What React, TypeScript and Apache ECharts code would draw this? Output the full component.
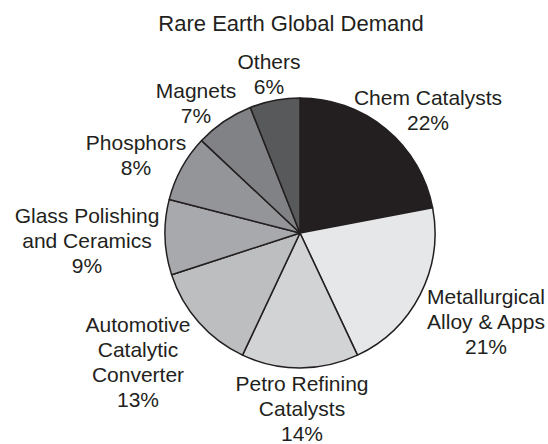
import React, { useEffect, useRef } from "react";
import * as echarts from "echarts";

// Share of global rare earth demand by end use (percent)
const categories = [
  "Chem Catalysts",
  "Metallurgical\nAlloy & Apps",
  "Petro Refining\nCatalysts",
  "Automotive\nCatalytic\nConverter",
  "Glass Polishing\nand Ceramics",
  "Phosphors",
  "Magnets",
  "Others",
];
const shares = [22, 21, 14, 13, 9, 8, 7, 6];

// Greyscale fill per slice
const sliceColors = [
  "#231f20",
  "#e6e7e8",
  "#d1d3d4",
  "#bcbec0",
  "#a7a9ac",
  "#939598",
  "#808285",
  "#58595b",
];

// Label anchor (centre of each text block) in chart pixels
const labelAnchors: [number, number][] = [
  [428, 110],
  [486, 321],
  [302, 408],
  [138, 362],
  [87, 240],
  [136, 155],
  [196, 103],
  [269, 74],
];

const FONT = "'Liberation Sans', Arial, Helvetica, sans-serif";
const INK = "#231f20";

export default function App() {
  const ref = useRef<HTMLDivElement>(null);

  useEffect(() => {
    if (!ref.current) return;
    const chart = echarts.init(ref.current, undefined, { renderer: "svg" });
    chart.setOption({
      animation: false,
      backgroundColor: "#ffffff",
      title: {
        text: "Rare Earth Global Demand",
        left: 286,
        top: 18,
        textAlign: "center",
        textVerticalAlign: "middle",
        textStyle: {
          fontFamily: FONT,
          fontSize: 22,
          fontWeight: "normal",
          color: INK,
        },
      },
      series: [
        {
          type: "pie",
          center: [300, 233],
          radius: 135,
          startAngle: 90,
          clockwise: true,
          avoidLabelOverlap: false,
          data: categories.map((name, i) => ({
            name,
            value: shares[i],
            itemStyle: { color: sliceColors[i] },
          })),
          itemStyle: {
            borderColor: INK,
            borderWidth: 1.5,
          },
          label: {
            show: true,
            position: "outside",
            formatter: "{b}\n{c}%",
            fontFamily: FONT,
            fontSize: 21,
            lineHeight: 25,
            color: INK,
            align: "center",
          },
          labelLine: { show: false },
          labelLayout: (params: any) => {
            const [x, y] = labelAnchors[params.dataIndex];
            return { x, y, align: "center", verticalAlign: "middle" };
          },
          emphasis: { disabled: true },
        },
      ],
    });
    return () => chart.dispose();
  }, []);

  return (
    <div
      ref={ref}
      style={{ position: "fixed", left: 0, top: 0, width: 548, height: 444 }}
    />
  );
}
